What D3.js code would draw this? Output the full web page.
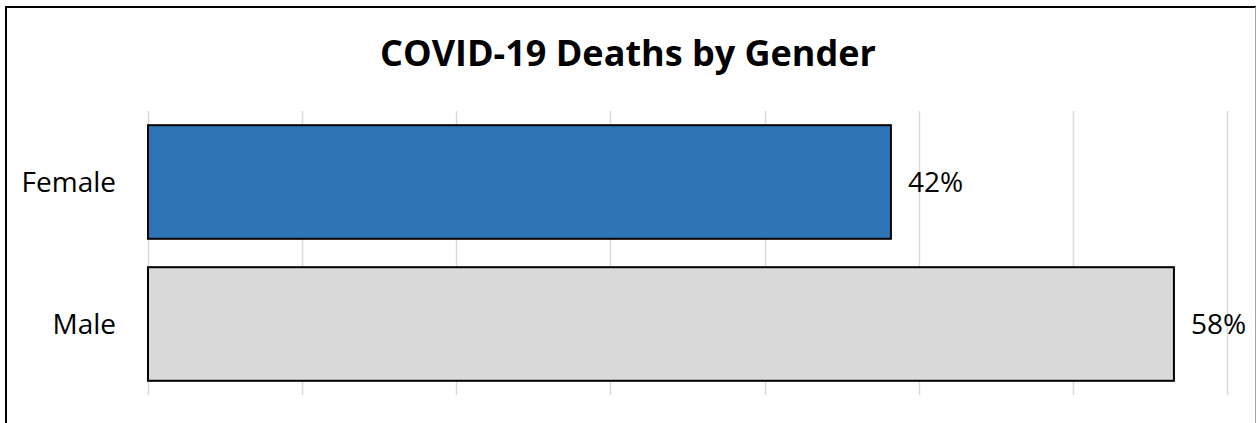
<!DOCTYPE html>
<html>
<head>
<meta charset="utf-8">
<script src="https://cdn.jsdelivr.net/npm/d3@7"></script>
<style>
  html, body { margin: 0; padding: 0; background: #fff; }
  svg { display: block; font-family: "Open Sans", "Noto Sans", sans-serif; }
</style>
</head>
<body>
<div id="chart"></div>
<script>
// data
var categories = ['Female', 'Male'];
var shares = [0.42, 0.58];
var barColors = ['#2E75B6', '#D9D9D9'];
var chartTitle = 'COVID-19 Deaths by Gender';

var width = 1256, height = 423;
var xMax = 0.61;     // axis max (hidden)
var gridCount = 7;   // number of gridline intervals

var svg = d3.select('#chart').append('svg')
  .attr('width', width)
  .attr('height', height);

// chart border (top/left visible, right edge faint)
svg.append('path')
  .attr('d', 'M6,' + (height + 2) + 'V7H' + (width + 2))
  .attr('fill', 'none')
  .attr('stroke', '#000')
  .attr('stroke-width', 2);
svg.append('line')
  .attr('x1', width - 0.5).attr('x2', width - 0.5)
  .attr('y1', 7).attr('y2', height)
  .attr('stroke', '#a6a6a6')
  .attr('stroke-width', 1);

// title
svg.append('text')
  .attr('x', 628)
  .attr('y', 66)
  .attr('text-anchor', 'middle')
  .attr('font-size', 36)
  .attr('font-weight', 'bold')
  .attr('fill', '#000')
  .text(chartTitle);

var x = d3.scaleLinear().domain([0, xMax]).range([148, 1227]);
var y = d3.scaleBand().domain(categories).range([111, 395])
  .paddingInner(0.2).paddingOuter(0.1);

// gridlines
var gridVals = d3.range(gridCount + 1).map(function(i) { return xMax * i / gridCount; });
svg.append('g').attr('class', 'grid')
  .selectAll('line')
  .data(gridVals)
  .enter().append('line')
  .attr('x1', function(d) { return Math.round(x(d)) + 0.5; })
  .attr('x2', function(d) { return Math.round(x(d)) + 0.5; })
  .attr('y1', 111)
  .attr('y2', 395)
  .attr('stroke', '#d9d9d9')
  .attr('stroke-width', 1.5);

// bars
var data = categories.map(function(c, i) {
  return { name: c, value: shares[i], color: barColors[i] };
});

svg.append('g').selectAll('rect')
  .data(data)
  .enter().append('rect')
  .attr('x', x(0))
  .attr('y', function(d) { return y(d.name); })
  .attr('width', function(d) { return x(d.value) - x(0); })
  .attr('height', y.bandwidth())
  .attr('fill', function(d) { return d.color; })
  .attr('stroke', '#000')
  .attr('stroke-width', 2);

// category labels
svg.append('g').selectAll('text')
  .data(data)
  .enter().append('text')
  .attr('x', 116)
  .attr('y', function(d) { return y(d.name) + y.bandwidth() / 2 + 10; })
  .attr('text-anchor', 'end')
  .attr('font-size', 28)
  .attr('fill', '#000')
  .text(function(d) { return d.name; });

// value labels
svg.append('g').selectAll('text')
  .data(data)
  .enter().append('text')
  .attr('x', function(d) { return x(d.value) + 17; })
  .attr('y', function(d) { return y(d.name) + y.bandwidth() / 2 + 10; })
  .attr('font-size', 28)
  .attr('fill', '#000')
  .text(function(d) { return d3.format('.0%')(d.value); });
</script>
</body>
</html>
